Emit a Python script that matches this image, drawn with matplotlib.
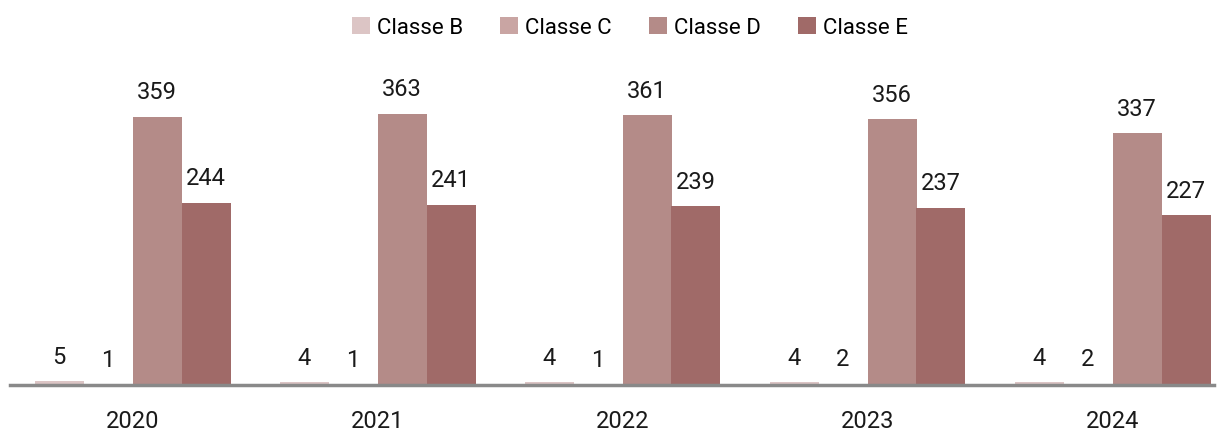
import matplotlib.pyplot as plt
import numpy as np

plt.rcParams['font.family'] = ['Roboto', 'DejaVu Sans']

# data
years = ['2020', '2021', '2022', '2023', '2024']
classe_b = [5, 4, 4, 4, 4]
classe_c = [1, 1, 1, 2, 2]
classe_d = [359, 363, 361, 356, 337]
classe_e = [244, 241, 239, 237, 227]

series = [classe_b, classe_c, classe_d, classe_e]
names = ['Classe B', 'Classe C', 'Classe D', 'Classe E']
colors = ['#dcc5c5', '#c9a5a3', '#b48b88', '#a06a68']

fig = plt.figure(figsize=(12.24, 4.34), dpi=100)
ax = fig.add_axes([10 / 1224, (434 - 385) / 434, 1204 / 1224, 325 / 434])

x = np.arange(len(years))
w = 0.2
for i, (vals, name, col) in enumerate(zip(series, names, colors)):
    pos = x + (i - 1.5) * w
    bars = ax.bar(pos, vals, width=w, color=col, label=name)
    for b, v in zip(bars, vals):
        ax.annotate(str(v), (b.get_x() + w / 2, v), xytext=(0, 9),
                    textcoords='offset points', ha='center', va='bottom',
                    fontsize=17, color='#1a1a1a')

ax.set_xlim(-0.5, 4.5 - 21 / 245)
ax.set_ylim(0, 435)
ax.set_xticks(x)
ax.set_xticklabels(years, fontsize=17, color='#1a1a1a')
ax.tick_params(axis='x', length=0, pad=18)
ax.set_yticks([])
for s in ['top', 'right', 'left']:
    ax.spines[s].set_visible(False)
ax.spines['bottom'].set_color('#898989')
ax.spines['bottom'].set_linewidth(2.5)

fig.legend(loc='center', bbox_to_anchor=(630 / 1224, 1 - 28 / 434), ncol=4,
           frameon=False, fontsize=16, handlelength=0.8, handleheight=0.8,
           handletextpad=0.3, columnspacing=1.7)

fig.savefig('out.png', dpi=100)
